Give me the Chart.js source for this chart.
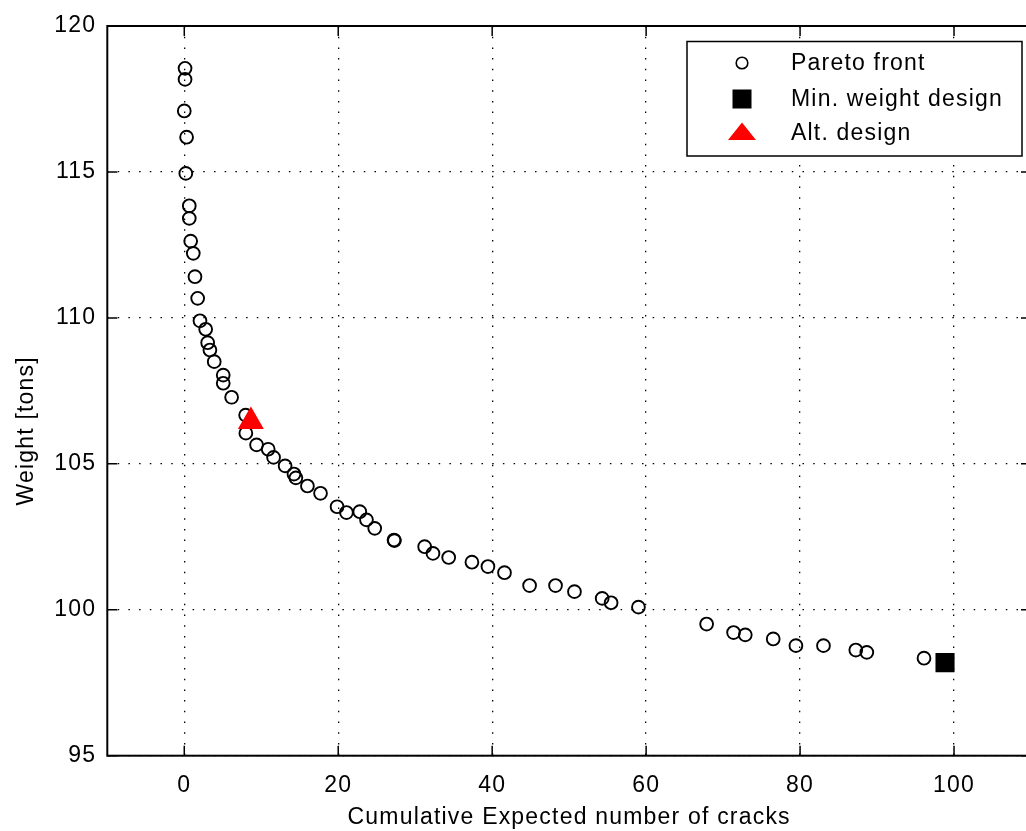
<!DOCTYPE html>
<html>
<head>
<meta charset="utf-8">
<title>Pareto front</title>
<script src="https://cdn.jsdelivr.net/npm/chart.js@4.4.1/dist/chart.umd.min.js"></script>
<style>
  html, body { margin: 0; padding: 0; background: #fff; overflow: hidden; }
  #wrap { width: 1046px; height: 831px; }
</style>
</head>
<body>
<div id="wrap"><canvas id="paretoChart" width="1046" height="831"></canvas></div>
<script>
// data
const paretoCracks = [0.1, 0.1, 0.0, 0.3, 0.2, 0.65, 0.65, 0.83, 1.17, 1.39, 1.74, 2.04, 2.78, 3.04, 3.33, 3.89,
  5.06, 5.06, 6.15, 7.97, 8.0, 9.39, 10.9, 11.6, 13.1, 14.25, 14.5, 16.0, 17.7, 19.85, 21.07, 22.8, 23.67,
  24.74, 27.25, 27.3, 31.23, 32.31, 34.35, 37.37, 39.45, 41.6, 44.86, 48.23, 50.69, 54.29, 55.45, 59.0,
  67.86, 71.36, 72.88, 76.51, 79.46, 83.04, 87.24, 88.67, 96.1];
const paretoWeight = [118.55, 118.17, 117.09, 116.19, 114.95, 113.84, 113.41, 112.63, 112.21, 111.41, 110.67, 109.9, 109.61, 109.15, 108.9, 108.5,
  108.04, 107.76, 107.28, 106.67, 106.05, 105.65, 105.5, 105.22, 104.93, 104.65, 104.52, 104.24, 103.99, 103.53, 103.33, 103.36, 103.08,
  102.79, 102.39, 102.37, 102.16, 101.93, 101.79, 101.63, 101.48, 101.27, 100.83, 100.83, 100.62, 100.39, 100.24, 100.09,
  99.51, 99.22, 99.14, 99.0, 98.77, 98.77, 98.62, 98.54, 98.34];
const minWeightDesign = [98.83, 98.19];
const altDesign = [8.65, 106.45];

const xTicks = [0, 20, 40, 60, 80, 100];
const yTicks = [95, 100, 105, 110, 115, 120];
const legendLabels = ['Pareto front', 'Min. weight design', 'Alt. design'];
const yTitle = 'Weight [tons]';

const FONT = "'Liberation Sans', Arial, Helvetica, sans-serif";
const font = { family: FONT, size: 23 };

let pareto = paretoCracks.map((c, i) => ({ x: c, y: paretoWeight[i] }));

// MATLAB-ish wide text
const spacingPlugin = {
  id: 'spacing',
  beforeDraw(chart) { chart.ctx.letterSpacing = '1.2px'; }
};

// box round the axes with inward ticks, plus the y label (sits a bit low in the original)
const framePlugin = {
  id: 'frame',
  afterDatasetsDraw(chart) {
    const { ctx, chartArea: a, scales: { x, y } } = chart;
    ctx.save();
    ctx.strokeStyle = '#000';
    ctx.lineWidth = 2;
    ctx.strokeRect(a.left, a.top, a.right - a.left, a.bottom - a.top);
    ctx.lineWidth = 1.5;
    ctx.beginPath();
    xTicks.forEach(v => {
      let px = x.getPixelForValue(v);
      ctx.moveTo(px, a.bottom); ctx.lineTo(px, a.bottom - 10);
      ctx.moveTo(px, a.top); ctx.lineTo(px, a.top + 10);
    });
    yTicks.forEach(v => {
      let py = y.getPixelForValue(v);
      ctx.moveTo(a.left, py); ctx.lineTo(a.left + 10, py);
      ctx.moveTo(a.right, py); ctx.lineTo(a.right - 10, py);
    });
    ctx.stroke();

    ctx.translate(27, (a.top + a.bottom) / 2 + 40);
    ctx.rotate(-Math.PI / 2);
    ctx.fillStyle = '#000';
    ctx.font = `23px ${FONT}`;
    ctx.letterSpacing = '1.2px';
    ctx.textAlign = 'center';
    ctx.textBaseline = 'middle';
    ctx.fillText(yTitle, 0, 0);
    ctx.restore();
  }
};

// legend in the top right corner
const legendPlugin = {
  id: 'boxLegend',
  afterDraw(chart) {
    const { ctx, chartArea: a } = chart;
    const left = a.right - 344, top = a.top + 15.5, w = 335, h = 114.5;
    ctx.save();
    ctx.fillStyle = '#fff';
    ctx.fillRect(left, top, w, h);
    ctx.strokeStyle = '#000';
    ctx.lineWidth = 1.5;
    ctx.strokeRect(left, top, w, h);

    const mx = left + 55, tx = left + 104;
    const rows = [top + 21.5, top + 57.5, top + 91.5];

    // circle
    ctx.beginPath();
    ctx.arc(mx, rows[0], 5.8, 0, Math.PI * 2);
    ctx.lineWidth = 1.6;
    ctx.stroke();
    // square
    ctx.fillStyle = '#000';
    ctx.fillRect(mx - 9.5, rows[1] - 9.5, 19, 19);
    // triangle
    ctx.fillStyle = '#ff0000';
    ctx.beginPath();
    ctx.moveTo(mx, rows[2] - 10.5);
    ctx.lineTo(mx + 14, rows[2] + 7);
    ctx.lineTo(mx - 14, rows[2] + 7);
    ctx.closePath();
    ctx.fill();

    ctx.fillStyle = '#000';
    ctx.font = `23px ${FONT}`;
    ctx.letterSpacing = '1.2px';
    ctx.textBaseline = 'middle';
    ctx.textAlign = 'left';
    legendLabels.forEach((t, i) => ctx.fillText(t, tx, rows[i] + 1));
    ctx.restore();
  }
};

new Chart(document.getElementById('paretoChart'), {
  type: 'scatter',
  data: {
    datasets: [
      {
        label: legendLabels[2],
        data: [{ x: altDesign[0], y: altDesign[1] }],
        pointStyle: 'triangle',
        pointRadius: 13.5,
        backgroundColor: '#ff0000',
        borderColor: '#ff0000',
        borderWidth: 1.5,
        order: 0
      },
      {
        label: legendLabels[1],
        data: [{ x: minWeightDesign[0], y: minWeightDesign[1] }],
        pointStyle: 'rect',
        pointRadius: 13.5,
        backgroundColor: '#000',
        borderColor: '#000',
        borderWidth: 0,
        order: 1
      },
      {
        label: legendLabels[0],
        data: pareto,
        pointStyle: 'circle',
        pointRadius: 6.4,
        backgroundColor: 'rgba(0,0,0,0)',
        borderColor: '#000',
        borderWidth: 1.9,
        order: 2
      }
    ]
  },
  options: {
    responsive: false,
    animation: false,
    layout: { padding: { top: 26, right: 8, left: 0, bottom: 0 } },
    plugins: {
      legend: { display: false },
      tooltip: { enabled: false }
    },
    scales: {
      x: {
        type: 'linear',
        min: -10,
        max: 110,
        afterBuildTicks: axis => { axis.ticks = xTicks.map(v => ({ value: v })); },
        afterFit: s => { s.height = 75.3; },
        grid: { color: '#000', lineWidth: 1.3, drawTicks: false },
        border: { display: false, dash: [1.5, 9.2] },
        ticks: { color: '#000', font: font, padding: 16, autoSkip: false, maxRotation: 0 },
        title: { display: true, text: 'Cumulative Expected number of cracks', color: '#000', font: font, padding: { top: 1, bottom: 0 } }
      },
      y: {
        min: 95,
        max: 120,
        afterBuildTicks: axis => { axis.ticks = yTicks.map(v => ({ value: v })); },
        afterFit: s => { s.width = 107.3; },
        grid: { color: '#000', lineWidth: 1.3, drawTicks: false },
        border: { display: false, dash: [1.5, 9.2] },
        ticks: { color: '#000', font: font, padding: 11 },
        title: { display: false }
      }
    }
  },
  plugins: [spacingPlugin, framePlugin, legendPlugin]
});
</script>
</body>
</html>
